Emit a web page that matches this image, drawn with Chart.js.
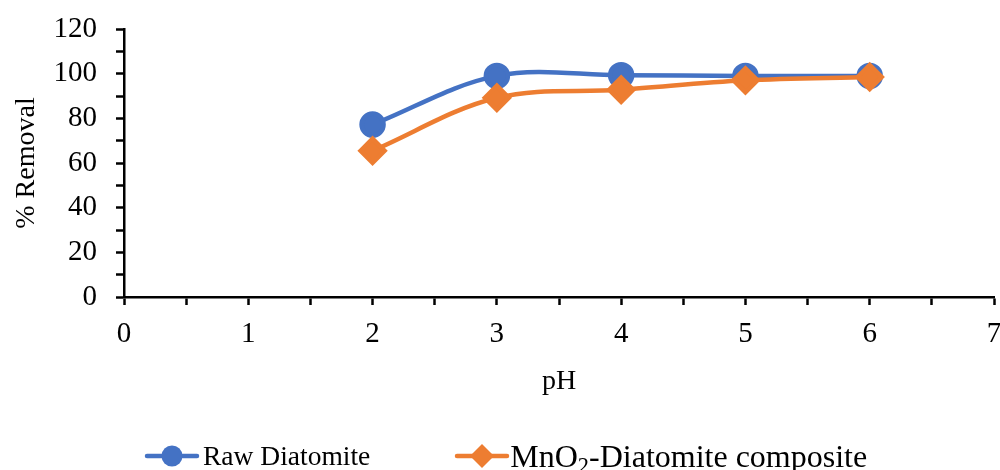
<!DOCTYPE html>
<html>
<head>
<meta charset="utf-8">
<script src="https://cdn.jsdelivr.net/npm/chart.js@4/dist/chart.umd.min.js"></script>
<style>
  html, body { margin: 0; padding: 0; background: #fff; }
  #wrap { position: relative; width: 1000px; height: 470px; overflow: hidden; }
  #legend {
    position: absolute; left: 144px; top: 439px; height: 34px;
    display: flex; align-items: center;
    font-family: 'Liberation Serif', 'Times New Roman', serif;
    color: #000; white-space: nowrap;
  }
  .item { display: flex; align-items: center; }
  .item canvas { margin-right: 3px; }
  .item:first-child { font-size: 27.5px; }
  .item + .item { margin-left: 84px; font-size: 32px; }
  .item + .item canvas { margin-right: 0; }
  sub { font-size: 70%; line-height: 0; vertical-align: -0.25em; }
</style>
</head>
<body>
<div id="wrap">
  <canvas id="phChart" width="1000" height="470"></canvas>
  <div id="legend"></div>
</div>
<script>
// chart data
const phValues = [2, 3, 4, 5, 6];
const rawRemoval = [77.2, 99.0, 99.3, 99.0, 99.0];
const compositeRemoval = [65.5, 89.2, 92.8, 97.0, 98.5];
const seriesNames = ["Raw Diatomite", "MnO<sub>2</sub>-Diatomite composite"];
const xTicks = [0, 1, 2, 3, 4, 5, 6, 7];
const yTicks = [0, 20, 40, 60, 80, 100, 120];

const blue = "#4472C4";
const orange = "#ED7D31";
const fontFamily = "'Liberation Serif', 'Times New Roman', serif";

// legend symbol: short line with the marker on it
function legendSymbol(color, style) {
    const c = document.createElement("canvas");
    c.width = 56;
    c.height = 26;
    const g = c.getContext("2d");
    g.strokeStyle = color;
    g.lineWidth = 4.5;
    g.lineCap = "round";
    g.beginPath();
    g.moveTo(3, 13);
    g.lineTo(53, 13);
    g.stroke();
    g.fillStyle = color;
    g.beginPath();
    if (style === "circle") {
        g.arc(28, 13, 10.5, 0, Math.PI * 2);
    } else {
        g.moveTo(28, 1);
        g.lineTo(40, 13);
        g.lineTo(28, 25);
        g.lineTo(16, 13);
        g.closePath();
    }
    g.fill();
    return c;
}

// build html legend
const legendEl = document.getElementById("legend");
[[blue, "circle"], [orange, "diamond"]].forEach(([color, style], i) => {
    const item = document.createElement("div");
    item.className = "item";
    item.appendChild(legendSymbol(color, style));
    const label = document.createElement("span");
    label.innerHTML = seriesNames[i];
    item.appendChild(label);
    legendEl.appendChild(item);
});

// keep tick labels from pushing the plot area in
function noPadding(scale) {
    scale.paddingLeft = 0;
    scale.paddingRight = 0;
    scale.paddingTop = 0;
    scale.paddingBottom = 0;
    scale.getPadding = () => ({ left: 0, top: 0, right: 0, bottom: 0 });
}

const ctx = document.getElementById("phChart").getContext("2d");

new Chart(ctx, {
    type: "line",
    data: {
        datasets: [
            {
                label: "Raw Diatomite",
                data: phValues.map((x, i) => ({ x: x, y: rawRemoval[i] })),
                borderColor: blue,
                backgroundColor: blue,
                borderWidth: 4.5,
                pointStyle: "circle",
                pointRadius: 11,
                pointHoverRadius: 11,
                tension: 0.35,
                clip: false,
                order: 2
            },
            {
                label: "MnO2-Diatomite composite",
                data: phValues.map((x, i) => ({ x: x, y: compositeRemoval[i] })),
                borderColor: orange,
                backgroundColor: orange,
                borderWidth: 4.5,
                pointStyle: "rectRot",
                pointRadius: 12,
                pointHoverRadius: 12,
                tension: 0.35,
                clip: false,
                order: 1
            }
        ]
    },
    options: {
        responsive: false,
        animation: false,
        events: [],
        layout: { autoPadding: false, padding: { left: 10, right: 6, top: 29, bottom: 72 } },
        plugins: {
            tooltip: { enabled: false },
            legend: { display: false }
        },
        scales: {
            x: {
                type: "linear",
                min: xTicks[0],
                max: xTicks[xTicks.length - 1],
                afterBuildTicks: (scale) => {
                    const t = [];
                    for (let v = xTicks[0]; v <= xTicks[xTicks.length - 1]; v += 0.5) t.push({ value: v });
                    scale.ticks = t;
                },
                afterFit: (scale) => {
                    scale.height = 101;
                    noPadding(scale);
                },
                grid: {
                    drawOnChartArea: false,
                    drawTicks: true,
                    tickLength: 8,
                    tickWidth: 2.5,
                    tickColor: "#000"
                },
                border: { display: true, color: "#000", width: 2.5 },
                ticks: {
                    autoSkip: false,
                    maxRotation: 0,
                    padding: 12,
                    color: "#000",
                    font: { family: fontFamily, size: 29 },
                    callback: (v) => xTicks.includes(v) ? String(v) : ""
                },
                title: {
                    display: true,
                    text: "pH",
                    color: "#000",
                    font: { family: fontFamily, size: 28 },
                    padding: { top: 0, bottom: 0 }
                }
            },
            y: {
                type: "linear",
                min: yTicks[0],
                max: yTicks[yTicks.length - 1],
                afterBuildTicks: (scale) => {
                    const t = [];
                    for (let v = yTicks[0]; v <= yTicks[yTicks.length - 1]; v += 10) t.push({ value: v });
                    scale.ticks = t;
                },
                afterFit: (scale) => {
                    scale.width = 114;
                    noPadding(scale);
                },
                grid: {
                    drawOnChartArea: false,
                    drawTicks: true,
                    tickLength: 8,
                    tickWidth: 2.5,
                    tickColor: "#000"
                },
                border: { display: true, color: "#000", width: 2.5 },
                ticks: {
                    autoSkip: false,
                    padding: 19,
                    color: "#000",
                    font: { family: fontFamily, size: 29 },
                    callback: (v) => yTicks.includes(v) ? String(v) : ""
                },
                title: {
                    display: true,
                    text: "% Removal",
                    color: "#000",
                    font: { family: fontFamily, size: 28 },
                    padding: { top: 0, bottom: 0 }
                }
            }
        }
    }
});
</script>
</body>
</html>
